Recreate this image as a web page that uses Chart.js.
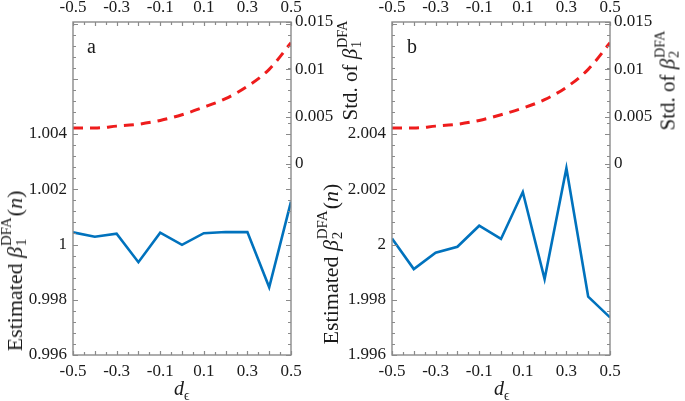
<!DOCTYPE html>
<html>
<head>
<meta charset="utf-8">
<script src="https://cdn.jsdelivr.net/npm/chart.js@4.4.0/dist/chart.umd.min.js"></script>
<style>
  html, body { margin:0; padding:0; background:#fff; }
  #wrap { position:relative; width:685px; height:401px; overflow:hidden; font-family:'Liberation Serif','Times New Roman',serif; color:#1a1a1a; }
  canvas { position:absolute; top:0; }
  .lbl { position:absolute; white-space:nowrap; line-height:1; font-size:20px; }
  .rot { transform: translate(-50%,-50%) rotate(-90deg); }
  .big { font-size:22px; }
  .mid { font-size:21px; }
  .stk { display:inline-block; position:relative; width:2.05em; height:1em; font-size:0.68em; }
  .stk .up { position:absolute; left:0.05em; bottom:0.55em; line-height:1; }
  .stk .dn { position:absolute; left:0.05em; bottom:-0.45em; line-height:1; }
  .sub { font-size:0.68em; position:relative; top:0.35em; }
</style>
</head>
<body>
<div id="wrap">
  <canvas id="ca" width="345" height="401" style="left:0px"></canvas>
  <canvas id="cb" width="345" height="401" style="left:340px"></canvas>

  <div class="lbl" style="left:87px; top:36px;">a</div>
  <div class="lbl" style="left:407px; top:36px;">b</div>

  <div class="lbl rot big" style="left:15px; top:271px;">Estimated <i>β</i><span class="stk"><span class="up">DFA</span><span class="dn">1</span></span>(<i>n</i>)</div>
  <div class="lbl rot big" style="left:331px; top:264px;">Estimated <i>β</i><span class="stk"><span class="up">DFA</span><span class="dn">2</span></span>(<i>n</i>)</div>

  <div class="lbl rot mid" style="left:350px; top:70px;">Std. of <i>β</i><span class="stk"><span class="up">DFA</span><span class="dn">1</span></span></div>
  <div class="lbl rot mid" style="left:668px; top:80px;">Std. of <i>β</i><span class="stk"><span class="up">DFA</span><span class="dn">2</span></span></div>

  <div class="lbl" style="left:174px; top:378px;"><i>d</i><span class="sub">ϵ</span></div>
  <div class="lbl" style="left:494px; top:378px;"><i>d</i><span class="sub">ϵ</span></div>
</div>
<script>
// ---- data ----
const dEps   = [-0.5, -0.4, -0.3, -0.2, -0.1, 0, 0.1, 0.2, 0.3, 0.4, 0.5];
const betaA  = [1.00044, 1.00028, 1.00039, 0.99936, 1.00043, 0.99999, 1.00041, 1.00045, 1.00045, 0.99845, 1.00155];
const stdA   = [0.0038, 0.0038, 0.0040, 0.0042, 0.0046, 0.0052, 0.0060, 0.0069, 0.0082, 0.0100, 0.0128];
const betaB  = [2.00022, 1.99911, 1.99970, 1.99992, 2.00068, 2.00020, 2.00190, 1.99875, 2.00276, 1.99811, 1.99736];
const stdB   = [0.0038, 0.0038, 0.0040, 0.0042, 0.0046, 0.0052, 0.0059, 0.0068, 0.0081, 0.0100, 0.0128];
const xTicks    = [-0.5, -0.3, -0.1, 0.1, 0.3, 0.5];
const yTicksA   = [0.996, 0.998, 1, 1.002, 1.004];
const yTicksB   = [1.996, 1.998, 2, 2.002, 2.004];
const stdTicks  = [0, 0.005, 0.01, 0.015];

const BLUE = '#0072BD';
const RED  = '#ee1c1c';
const FRAME = '#8a8a8a';
const TXT = '#1a1a1a';
const FONT = {family:"'Liberation Serif','Times New Roman',serif", size:17};

const framePlugin = {
  id: 'frame',
  afterDatasetsDraw(chart) {
    const {ctx, chartArea:a, scales} = chart;
    const sx = scales.x, sy = scales.y, sy2 = scales.y2;
    ctx.save();
    ctx.strokeStyle = FRAME;
    ctx.lineWidth = 1.2;
    ctx.beginPath();
    for (let k = 0; k <= 20; k++) {
      const v = -0.5 + k * 0.05;
      const px = Math.round(sx.getPixelForValue(v)) + 0.5;
      const len = (k % 2 === 0) ? 4 : 3;
      ctx.moveTo(px, a.bottom); ctx.lineTo(px, a.bottom - len);
      ctx.moveTo(px, a.top); ctx.lineTo(px, a.top + len);
    }
    const n = Math.floor((sy.max - sy.min) / 0.0004 + 1e-6);
    for (let k = 0; k <= n; k++) {
      const v = sy.min + k * 0.0004;
      const py = Math.round(sy.getPixelForValue(v)) + 0.5;
      const len = (k % 5 === 0) ? 5 : 3;
      ctx.moveTo(a.left, py); ctx.lineTo(a.left + len, py);
      ctx.moveTo(a.right, py); ctx.lineTo(a.right - len, py);
    }
    for (const v of stdTicks) {
      const py = Math.round(sy2.getPixelForValue(v)) + 0.5;
      ctx.moveTo(a.right, py); ctx.lineTo(a.right - 5, py);
    }
    ctx.stroke();
    ctx.lineWidth = 1.4;
    ctx.strokeRect(a.left, a.top, a.right - a.left, a.bottom - a.top);
    ctx.restore();
  }
};

function setTicks(arr) { return (scale) => { scale.ticks = arr.map(v => ({value: v})); }; }
const noGrid = {display: false, drawTicks: false};

function makeChart(id, beta, std, yMin, yTicks, leftW, rightW) {
  const pts = (ys) => dEps.map((x, i) => ({x: x, y: ys[i]}));
  return new Chart(document.getElementById(id), {
    type: 'line',
    data: {
      datasets: [
        {data: pts(std), yAxisID: 'y2', xAxisID: 'x', borderColor: RED, borderWidth: 3,
         borderDash: [10, 7], pointRadius: 0, tension: 0.35, cubicInterpolationMode: 'monotone', fill: false},
        {data: pts(beta), yAxisID: 'y', xAxisID: 'x', borderColor: BLUE, borderWidth: 2.6,
         pointRadius: 0, tension: 0, fill: false}
      ]
    },
    options: {
      responsive: false, animation: false, devicePixelRatio: 1,
      layout: {padding: 0},
      plugins: {legend: {display: false}, tooltip: {enabled: false}},
      scales: {
        x: {type: 'linear', position: 'bottom', min: -0.5, max: 0.5,
            afterBuildTicks: setTicks(xTicks),
            afterFit: (s) => { s.height = 46; },
            grid: noGrid, border: {display: false},
            ticks: {font: FONT, color: TXT, padding: 6, maxRotation: 0, callback: (v) => String(v)}},
        x2: {type: 'linear', position: 'top', min: -0.5, max: 0.5,
            afterBuildTicks: setTicks(xTicks),
            afterFit: (s) => { s.height = 22; },
            grid: noGrid, border: {display: false},
            ticks: {font: FONT, color: TXT, padding: 4, maxRotation: 0, callback: (v) => String(v)}},
        y: {type: 'linear', position: 'left', min: yMin, max: yMin + 0.012055,
            afterBuildTicks: setTicks(yTicks),
            afterFit: (s) => { s.width = leftW; },
            grid: noGrid, border: {display: false},
            ticks: {font: FONT, color: TXT, padding: 6, callback: (v) => String(v)}},
        y2: {type: 'linear', position: 'right', min: -0.02018, max: 0.015,
            afterBuildTicks: setTicks(stdTicks),
            afterFit: (s) => { s.width = rightW; },
            grid: noGrid, border: {display: false},
            ticks: {font: FONT, color: TXT, padding: 4, callback: (v) => String(v)}}
      }
    },
    plugins: [framePlugin]
  });
}

makeChart('ca', betaA, stdA, 0.996, yTicksA, 73, 54);
makeChart('cb', betaB, stdB, 1.996, yTicksB, 52, 75);
</script>
</body>
</html>
